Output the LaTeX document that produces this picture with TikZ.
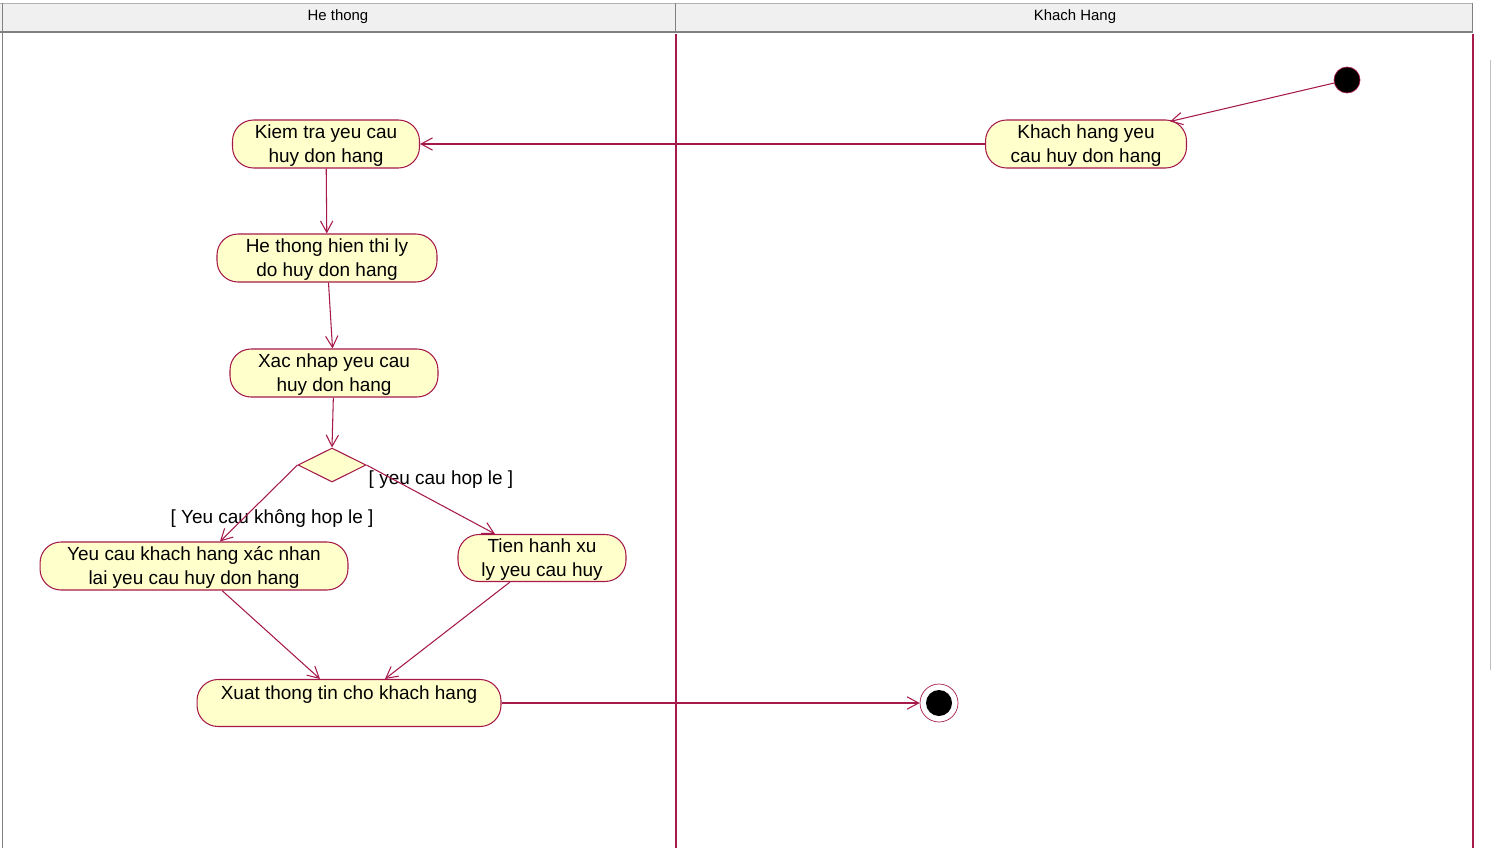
\documentclass[tikz,border=0pt]{standalone}
\usepackage{fontspec}
\setmainfont{Liberation Sans}
\usepackage{xcolor}
\usetikzlibrary{arrows.meta,shapes.geometric}
\definecolor{roseline}{RGB}{165,25,75}
\definecolor{rosefill}{RGB}{255,255,204}
\definecolor{headgray}{RGB}{240,240,240}
\tikzset{
    activity/.style={draw=roseline,fill=rosefill,line width=0.6pt,
        rectangle,rounded corners=0.42cm,align=center,inner sep=0pt,
        minimum height=0.96cm,text depth=0.02cm,
        font=\fontsize{10.8}{13.6}\selectfont},
    guard/.style={font=\fontsize{10.8}{13.6}\selectfont,inner sep=0pt},
    lanehead/.style={font=\fontsize{8.5}{10}\selectfont,inner sep=0pt}
}

\begin{document}
\begin{tikzpicture}[x=0.02cm,y=-0.02cm]
    \useasboundingbox (0,0) rectangle (1496,848);
    % swimlane headers
    \fill[headgray] (0,3) rectangle (1473,31);
    \draw[gray!60] (0,3) -- (1473,3);
    \draw[gray,line width=1.7pt] (0,32) -- (1473,32);
    \draw[gray] (675,3) -- (675,31);
    \draw[gray] (1472,3) -- (1472,31);
    \draw[gray] (2,3) -- (2,848);
    \draw[gray!50] (1490,60) -- (1490,670);
    \node[lanehead] (hdsys) at (338,17) {He thong};
    \node[lanehead] (hdkh) at (1075,17) {Khach Hang};
    % lanes
    \draw[roseline,line width=0.6pt] (676,34) -- (676,848);
    \draw[roseline,line width=0.6pt] (1473,34) -- (1473,848);

    \begin{scope}[every node/.style={activity}]
        \node[minimum width=3.74cm] (kiemtra) at (326,144) {Kiem tra yeu cau\\huy don hang};
        \node[minimum width=4.4cm] (hienthi) at (327,258) {He thong hien thi ly\\do huy don hang};
        \node[minimum width=4.16cm] (xacnhap) at (334,373) {Xac nhap yeu cau\\huy don hang};
        \node[minimum width=6.16cm] (yeucau) at (194,566) {Yeu cau khach hang xác nhan\\lai yeu cau huy don hang};
        \node[minimum width=3.36cm,minimum height=0.94cm] (tienhanh) at (542,558) {Tien hanh xu\\ly yeu cau huy};
        \node[minimum width=6.08cm,minimum height=0.94cm,text depth=0.42cm] (xuat) at (349,703) {Xuat thong tin cho khach hang};
        \node[minimum width=4.02cm] (khyeu) at (1086,144) {Khach hang yeu\\cau huy don hang};
    \end{scope}
    \node[diamond,aspect=2,draw=roseline,fill=rosefill,line width=0.6pt,
        inner sep=0pt,minimum width=1.36cm,minimum height=0.68cm] (quyet) at (332,465) {};
    \node[circle,draw=roseline,fill=black,minimum size=0.52cm,inner sep=0pt] (batdau) at (1347,80) {};
    \node[circle,draw=roseline,fill=white,minimum size=0.76cm,inner sep=0pt,
        path picture={\fill[black] (path picture bounding box.center) circle (0.26cm);}] (ketthuc) at (939,703) {};
    \node[guard] (khonghople) at (272,519) {[ Yeu cau không hop le ]};
    \node[guard] (hople) at (441,480) {[ yeu cau hop le ]};

    \begin{scope}[>={Straight Barb[length=6.5pt,width=7pt]},
        every edge/.style={draw=roseline,line width=0.6pt}]
        \path [->] (batdau) edge ([xshift=-0.34cm,yshift=-0.04cm]khyeu.north east);
        \path [->] (khyeu) edge (kiemtra);
        \path [->] (kiemtra) edge (hienthi);
        \path [->] (hienthi) edge (xacnhap);
        \path [->] (xacnhap) edge (quyet.north);
        \path [->] (quyet.west) edge ([xshift=0.52cm]yeucau.north);
        \path [->] (quyet.east) edge ([xshift=-0.94cm]tienhanh.north);
        \path [->] ([xshift=0.56cm]yeucau.south) edge ([xshift=-0.58cm]xuat.north);
        \path [->] ([xshift=-0.64cm]tienhanh.south) edge ([xshift=0.72cm]xuat.north);
        \path [->] (xuat) edge (ketthuc);
    \end{scope}
\end{tikzpicture}
\end{document}
